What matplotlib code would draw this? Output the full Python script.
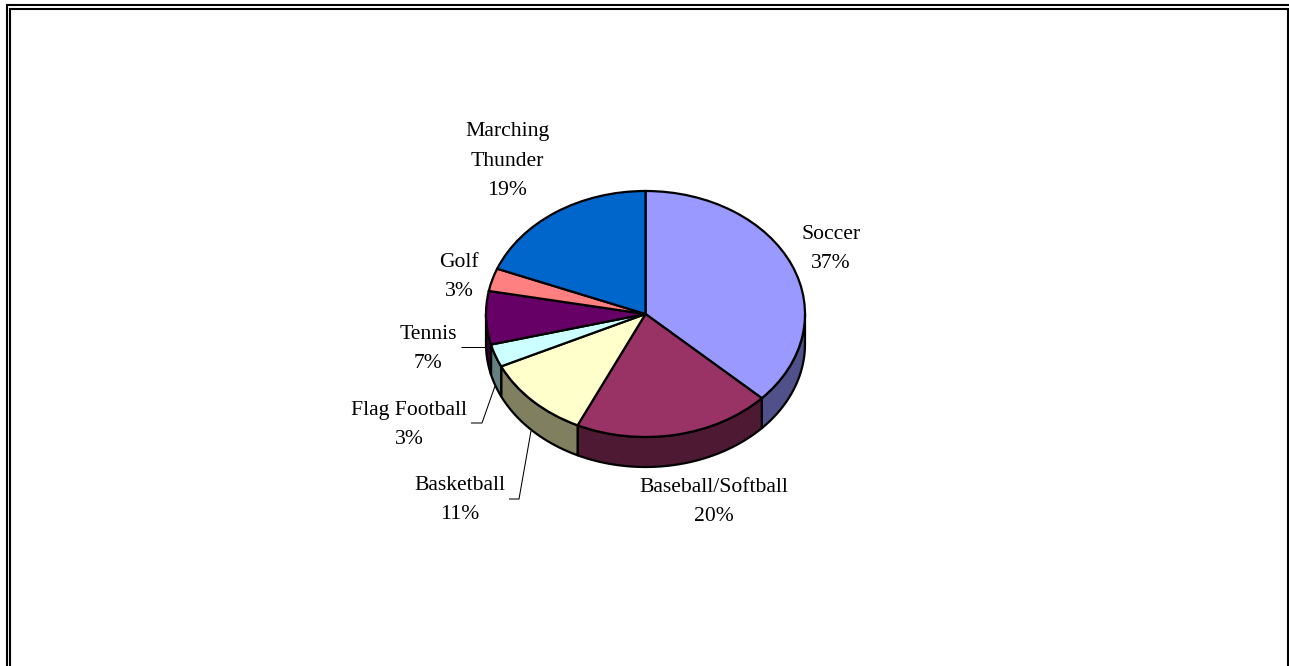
import numpy as np
import matplotlib
matplotlib.use("Agg")
import matplotlib.pyplot as plt
from matplotlib.patches import Polygon

W, H = 1289, 666

categories = ["Soccer", "Baseball/Softball", "Basketball", "Flag Football",
              "Tennis", "Golf", "Marching Thunder"]
shares = [37, 20, 11, 3, 7, 3, 19]
top_colors = ["#9999FF", "#993366", "#FFFFCC", "#CCFFFF", "#660066", "#FF8080", "#0066CC"]
side_colors = ["#50508A", "#4D1933", "#808060", "#668080", "#330033", "#804040", "#003366"]

label_texts = ["Soccer\n37%", "Baseball/Softball\n20%", "Basketball\n11%",
               "Flag Football\n3%", "Tennis\n7%", "Golf\n3%", "Marching\nThunder\n19%"]
label_px = [(831, 249), (714, 502), (460, 500), (409, 425), (428, 349), (459, 277), (507, 161)]

# Leader lines, in figure pixels
leaders = [
    [(461, 347), (485, 347)],
    [(471, 423), (482, 423), (495, 386)],
    [(509, 499), (519, 499), (531, 431)],
]

plt.rcParams["font.family"] = ["Liberation Serif", "DejaVu Serif"]
fig = plt.figure(figsize=(W / 100, H / 100), dpi=100, facecolor="white")

# Overlay in pixel coordinates for the frame, labels and leaders
over = fig.add_axes([0, 0, 1, 1], zorder=3)
over.set_xlim(0, W)
over.set_ylim(H, 0)
over.axis("off")

# Top face of the tilted pie: an ellipse from stretching the pie axes
cx, cy, rx, ry = 645.5, 314, 159.5, 123
depth = 30 / ry
ax = fig.add_axes([(cx - rx) / W, 1 - (cy + ry) / H, 2 * rx / W, 2 * ry / H], zorder=2)

# Rim of the pie, drawn from the same shares
edges = 90 - 360 * np.cumsum([0] + shares) / sum(shares)
for a0, a1, c in zip(edges[:-1], edges[1:], side_colors):
    lo, hi = max(a1, -180), min(a0, 0)
    if lo >= hi:
        continue
    t = np.radians(np.linspace(hi, lo, 60))
    x, y = np.cos(t), np.sin(t)
    pts = np.r_[np.c_[x, y], np.c_[x[::-1], y[::-1] - depth]]
    ax.add_patch(Polygon(pts, closed=True, facecolor=c, edgecolor="black",
                         linewidth=1.6, clip_on=False, joinstyle="round"))

ax.pie(shares, colors=top_colors, startangle=90, counterclock=False, radius=1,
       wedgeprops=dict(edgecolor="black", linewidth=1.6, clip_on=False))
ax.set_aspect("auto")
ax.set_xlim(-1, 1)
ax.set_ylim(-1, 1)
ax.axis("off")

for (x, y), s in zip(label_px, label_texts):
    over.text(x, y, s, ha="center", va="center", fontsize=15.6, color="black",
              linespacing=1.72)

for path in leaders:
    xs, ys = zip(*path)
    over.plot(xs, ys, color="black", lw=0.75, solid_capstyle="butt")

# Double page frame, open at the bottom
frame = dict(color="black", lw=1.5, solid_capstyle="butt")
over.plot([7, 7], [H, 4], **frame)
over.plot([6, W], [5, 5], **frame)
over.plot([10, 10], [H, 8], **frame)
over.plot([9, W - 1], [9, 9], **frame)
over.plot([1288, 1288], [8, H], **frame)

fig.savefig("out.png", dpi=100)
